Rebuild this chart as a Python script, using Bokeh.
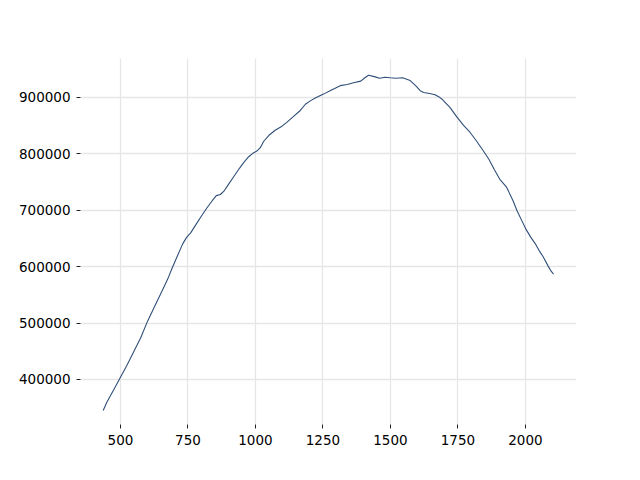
from bokeh.plotting import figure
from bokeh.models import FixedTicker, NumeralTickFormatter, Range1d
from bokeh.embed import file_html
from bokeh.resources import INLINE

x_vals = [436, 450, 475, 500, 525, 550, 575, 600, 625, 650, 675, 690, 710, 730, 745,
          760, 780, 800, 820, 840, 855, 870, 885, 900, 920, 940, 957, 975, 990, 1005,
          1018, 1030, 1050, 1073, 1095, 1116, 1140, 1166, 1185, 1203, 1225, 1252, 1280,
          1314, 1340, 1363, 1390, 1405, 1419, 1440, 1460, 1480, 1499, 1520, 1545, 1573,
          1595, 1610, 1623, 1645, 1665, 1680, 1691, 1705, 1721, 1745, 1770, 1795, 1820,
          1843, 1865, 1885, 1905, 1930, 1954, 1968, 1985, 2000, 2020, 2036, 2050, 2065,
          2084, 2095, 2104]
y_vals = [345000, 360000, 382000, 404000, 426000, 450000, 474000, 503000, 528000, 553000,
          578000, 596000, 618000, 640000, 652000, 660000, 675000, 690000, 704000, 717000,
          726000, 728000, 735000, 746000, 760000, 774000, 785000, 795000, 801000, 805000,
          811000, 822000, 833000, 842000, 848000, 856000, 866000, 877000, 888000, 894000,
          900000, 906000, 913000, 921000, 923000, 926000, 929000, 935000, 939500, 937000,
          934000, 936000, 935000, 934000, 935000, 930000, 920000, 912000, 909000, 907000,
          905000, 901000, 897000, 890000, 882000, 866000, 851000, 838000, 822000, 806000,
          790000, 772000, 755000, 741000, 717000, 700000, 683000, 668000, 652000, 641000,
          629000, 618000, 601000, 592000, 587000]

x_ticks = [500, 750, 1000, 1250, 1500, 1750, 2000]
y_ticks = [400000, 500000, 600000, 700000, 800000, 900000]

p = figure(width=624, height=464, output_backend="svg", toolbar_location=None,
           x_range=Range1d(352, 2189), y_range=Range1d(320200, 969150),
           min_border_left=80, min_border_right=48, min_border_top=58, min_border_bottom=40)
p.outline_line_color = None
p.background_fill_color = "white"
p.border_fill_color = "white"

p.line(x_vals, y_vals, line_color="#2f4f78", line_width=1.1)

for ax in (p.xaxis, p.yaxis):
    ax.axis_line_color = None
    ax.minor_tick_line_color = None
    ax.major_tick_line_color = "#222222"
    ax.major_tick_out = 4
    ax.major_tick_in = 0
    ax.major_label_text_font = "DejaVu Sans"
    ax.major_label_text_font_size = "13.5px"
    ax.major_label_text_color = "black"
    ax.major_label_standoff = 6

p.xaxis.ticker = FixedTicker(ticks=x_ticks)
p.yaxis.ticker = FixedTicker(ticks=y_ticks)
p.yaxis.formatter = NumeralTickFormatter(format="0")

p.xgrid.ticker = FixedTicker(ticks=x_ticks)
p.ygrid.ticker = FixedTicker(ticks=y_ticks)
for g in (p.xgrid, p.ygrid):
    g.grid_line_color = "#e6e6e6"
    g.grid_line_width = 1.3

open("out.html", "w").write(file_html(p, INLINE))
